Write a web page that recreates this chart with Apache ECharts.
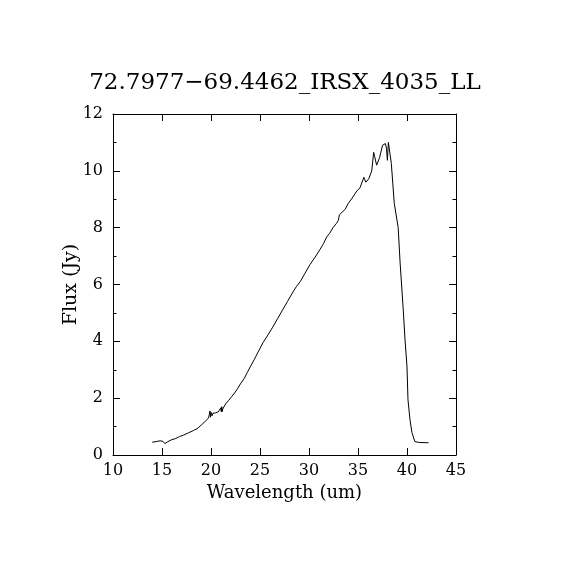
<!DOCTYPE html>
<html>
<head>
<meta charset="utf-8">
<script src="https://cdn.jsdelivr.net/npm/echarts@6/dist/echarts.min.js"></script>
<style>
  html, body { margin: 0; padding: 0; background: #fff; }
  #main { width: 570px; height: 570px; }
</style>
</head>
<body>
<div id="main"></div>
<script>
// spectrum (wavelength in um, flux in Jy)
var wavelength = [14.0, 14.4, 14.8, 15.1, 15.3, 15.6, 16.0, 16.4, 16.8, 17.2, 17.7, 18.2, 18.6, 19.0, 19.4, 19.75, 19.85, 19.9, 19.95, 20.0, 20.1, 20.2, 20.3, 20.45, 20.6, 20.75, 20.9, 21.0, 21.05, 21.1, 21.15, 21.2, 21.3, 21.4, 21.5, 21.6, 21.8, 22.1, 22.4, 22.7, 23.0, 23.4, 23.7, 24.0, 24.4, 24.8, 25.3, 25.8, 26.3, 26.8, 27.3, 27.8, 28.3, 28.7, 29.1, 29.6, 30.1, 30.6, 31.1, 31.5, 31.8, 32.1, 32.45, 32.8, 33.0, 33.1, 33.3, 33.7, 34.0, 34.4, 34.9, 35.2, 35.4, 35.6, 35.8, 36.1, 36.4, 36.6, 36.7, 36.9, 37.2, 37.5, 37.8, 37.9, 38.0, 38.1, 38.4, 38.7, 39.1, 39.3, 39.6, 39.8, 40.0, 40.1, 40.3, 40.5, 40.8, 41.3, 42.2];
var flux = [0.45, 0.47, 0.50, 0.48, 0.40, 0.47, 0.54, 0.58, 0.65, 0.70, 0.78, 0.86, 0.93, 1.05, 1.18, 1.30, 1.36, 1.55, 1.33, 1.50, 1.38, 1.47, 1.42, 1.48, 1.47, 1.52, 1.50, 1.66, 1.52, 1.70, 1.53, 1.62, 1.56, 1.62, 1.80, 1.75, 1.92, 2.05, 2.18, 2.33, 2.50, 2.70, 2.90, 3.10, 3.35, 3.62, 3.95, 4.22, 4.50, 4.80, 5.10, 5.40, 5.70, 5.92, 6.10, 6.40, 6.70, 6.95, 7.22, 7.45, 7.67, 7.80, 8.00, 8.15, 8.26, 8.45, 8.44, 8.65, 8.85, 9.04, 9.30, 9.40, 9.43, 9.77, 9.60, 9.72, 10.00, 10.65, 10.50, 10.20, 10.46, 10.90, 10.96, 10.80, 10.37, 11.00, 10.26, 8.86, 8.00, 6.75, 5.20, 4.05, 3.10, 1.95, 1.25, 0.80, 0.47, 0.44, 0.43];
var xTicks = [10, 15, 20, 25, 30, 35, 40, 45];
var yTicks = [0, 2, 4, 6, 8, 10, 12];

var font = 'DejaVu Serif';
var points = wavelength.map(function (w, i) { return [w, flux[i]]; });

function xAx(pos, labels) {
  return {
    type: 'value', position: pos,
    min: xTicks[0], max: xTicks[xTicks.length - 1], interval: 5,
    axisLine: { show: true, onZero: false, lineStyle: { color: '#000', width: 1 } },
    axisTick: { show: true, inside: true, length: 7, lineStyle: { color: '#000' } },
    minorTick: { show: false },
    splitLine: { show: false },
    axisLabel: { show: labels, margin: 8, color: '#000', fontFamily: font, fontSize: 16 },
    name: labels ? 'Wavelength (um)' : '',
    nameLocation: 'middle', nameGap: 26,
    nameTextStyle: { color: '#000', fontFamily: font, fontSize: 18 }
  };
}
function yAx(pos, labels) {
  return {
    type: 'value', position: pos,
    min: yTicks[0], max: yTicks[yTicks.length - 1], interval: 2,
    axisLine: { show: true, onZero: false, lineStyle: { color: '#000', width: 1 } },
    axisTick: { show: true, inside: true, length: 7, lineStyle: { color: '#000' } },
    minorTick: { show: true, splitNumber: 2, length: 3.5, lineStyle: { color: '#000' } },
    splitLine: { show: false },
    axisLabel: { show: labels, margin: 10, color: '#000', fontFamily: font, fontSize: 16 },
    name: labels ? 'Flux (Jy)' : '',
    nameLocation: 'middle', nameGap: 32, nameMoveOverlap: false,
    nameTextStyle: { color: '#000', fontFamily: font, fontSize: 19 }
  };
}

var myChart = echarts.init(document.getElementById('main'));
var option = {
  backgroundColor: '#fff',
  animation: false,
  title: {
    text: '72.7977\u221269.4462_IRSX_4035_LL',
    left: 'center', top: 67,
    textStyle: { color: '#000', fontFamily: font, fontSize: 23, fontWeight: 'normal' }
  },
  grid: { left: 113, right: 114, top: 114, bottom: 115 },
  xAxis: [xAx('bottom', true), xAx('top', false)],
  yAxis: [yAx('left', true), yAx('right', false)],
  series: [{
    type: 'line',
    data: points,
    showSymbol: false,
    symbol: 'none',
    lineStyle: { color: '#000', width: 1 }
  }]
};
myChart.setOption(option);
</script>
</body>
</html>
